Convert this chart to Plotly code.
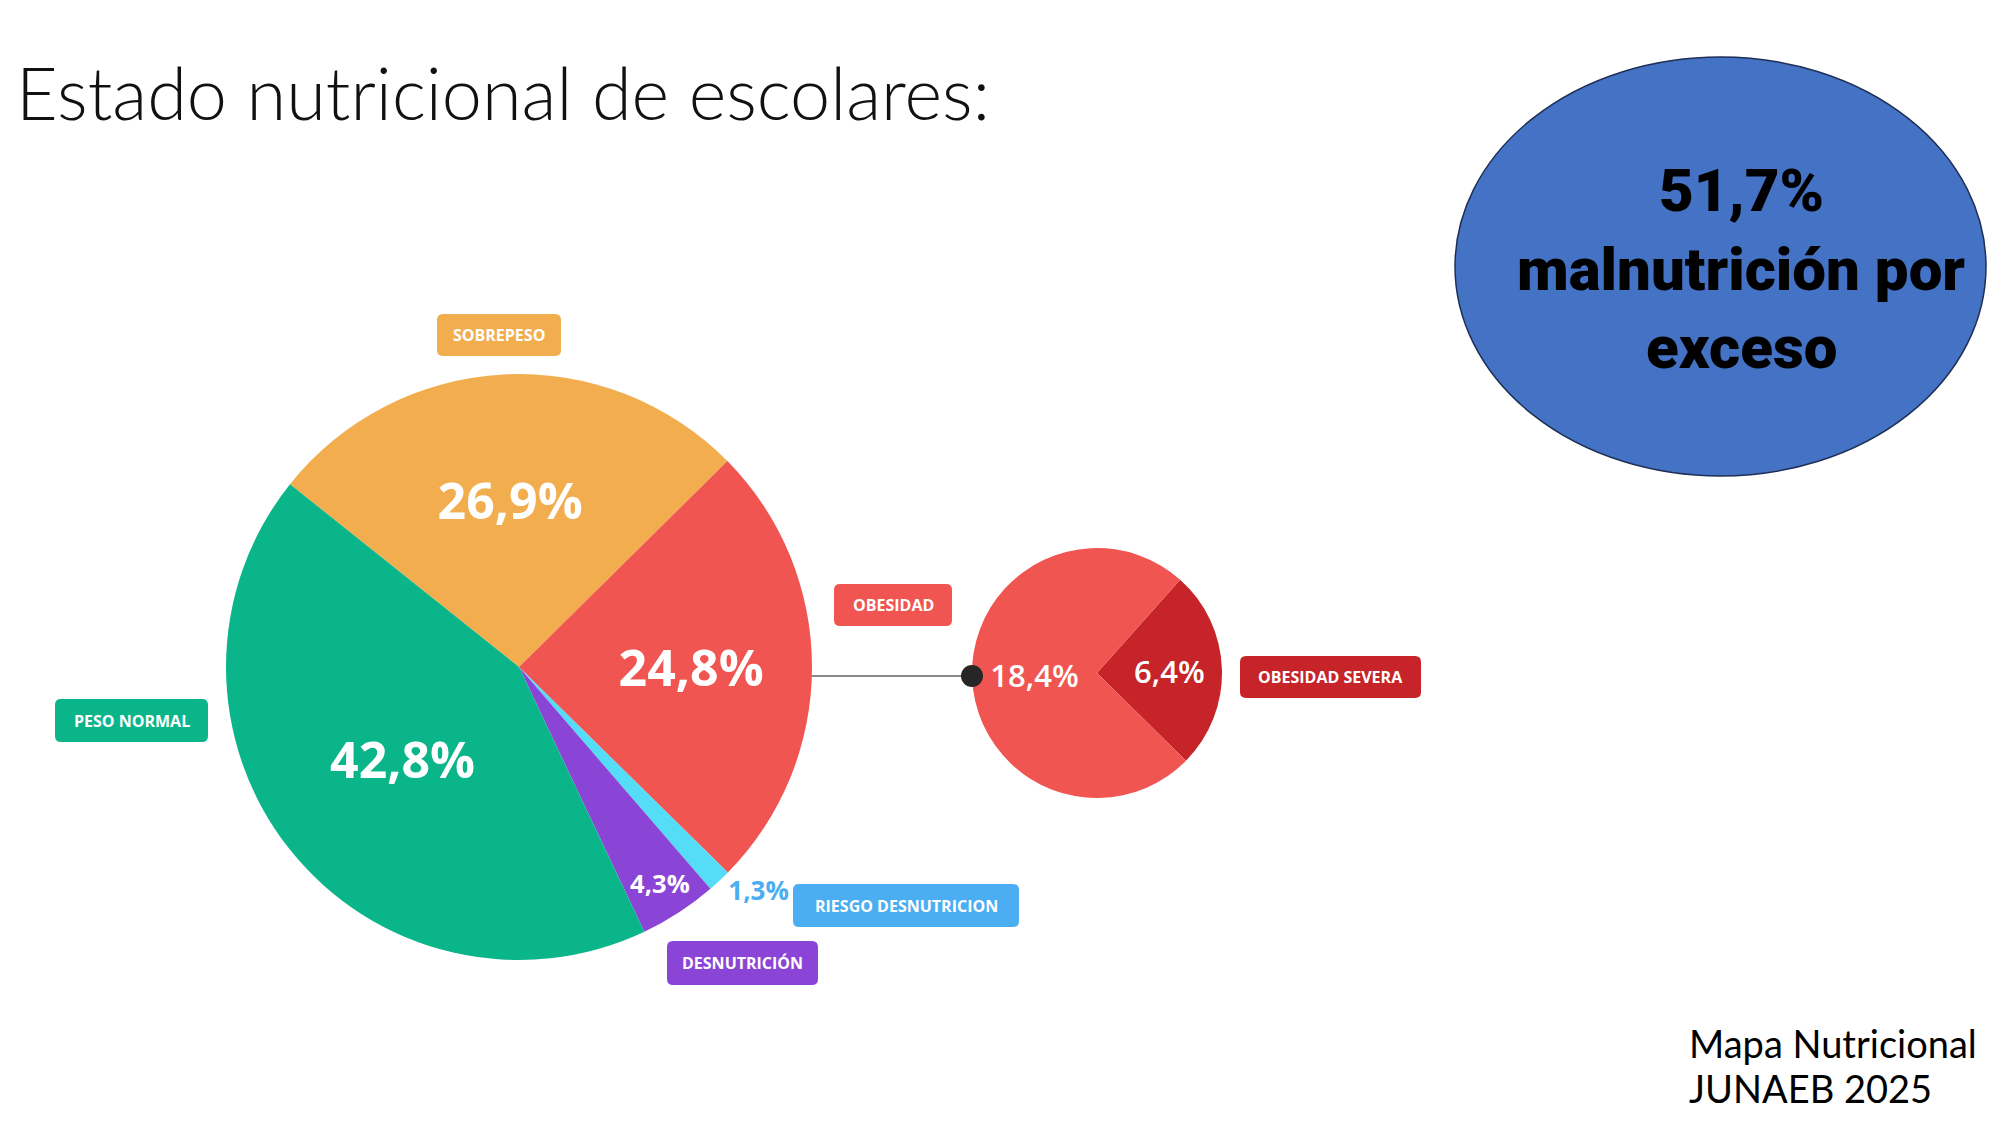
import plotly.graph_objects as go

# page body has an 8px margin, so the figure is drawn a bit smaller
OFF = 8
W, H = 2000 - 2 * OFF, 1125 - 2 * OFF

title_text = "Estado nutricional de escolares:"

# main pie, clockwise from the top-left boundary
categories = ["Sobrepeso", "Obesidad", "Riesgo desnutrición", "Desnutrición", "Peso normal"]
values = [26.9, 24.8, 1.3, 4.3, 42.8]
colors = ["#F2AD4F", "#F05552", "#55DCF6", "#8A45D6", "#0BB58A"]
text_pos = ["inside", "inside", "outside", "inside", "inside"]
text_colors = ["white", "white", "#4BAEF3", "white", "white"]
text_sizes = [50, 50, 26, 26, 50]

# breakdown of obesidad
obesity_categories = ["Obesidad severa", "Obesidad"]
obesity_values = [6.4, 18.4]
obesity_colors = ["#C62429", "#F05552"]

tags = ["SOBREPESO", "OBESIDAD", "OBESIDAD SEVERA", "PESO NORMAL",
        "RIESGO DESNUTRICION", "DESNUTRICIÓN"]
tag_colors = ["#F2AD4F", "#F05552", "#C62429", "#0BB58A", "#4BAEF3", "#8A45D6"]

highlight_lines = ["51,7%", "malnutrición por", "exceso"]
source_lines = ["Mapa Nutricional", "JUNAEB 2025"]


def px(x):
    return (x - OFF) / W


def py(y):
    return 1 - (y - OFF) / H


def rounded_rect(x0, x1, y0, y1, r=6):
    # path in paper units, corners rounded by r pixels
    rx, ry = r / W, r / H
    a, b = px(x0), px(x1)
    top, bot = py(y0), py(y1)
    return ("M %f,%f L %f,%f Q %f,%f %f,%f L %f,%f Q %f,%f %f,%f "
            "L %f,%f Q %f,%f %f,%f L %f,%f Q %f,%f %f,%f Z" % (
                a + rx, top, b - rx, top, b, top, b, top - ry,
                b, bot + ry, b, bot, b - rx, bot,
                a + rx, bot, a, bot, a, bot + ry,
                a, top - ry, a, top, a + rx, top))


fig = go.Figure()

# main pie: center (519, 667), radius 293
fig.add_trace(go.Pie(
    labels=categories, values=values, sort=False, direction="clockwise",
    rotation=-51.4,
    marker=dict(colors=colors, line=dict(width=0)),
    texttemplate="%{value:.1f}%", textposition=text_pos,
    insidetextorientation="horizontal",
    textfont=dict(family="Open Sans", size=text_sizes, color=text_colors, weight=700),
    domain=dict(x=[px(226), px(812)], y=[py(960), py(374)]),
    showlegend=False, hoverinfo="label+value",
))

# obesidad pie: center (1097, 673), radius 125
fig.add_trace(go.Pie(
    labels=obesity_categories, values=obesity_values, sort=False, direction="clockwise",
    rotation=41.7,
    marker=dict(colors=obesity_colors, line=dict(width=0)),
    texttemplate="%{value:.1f}%", textposition="inside",
    insidetextorientation="horizontal",
    textfont=dict(family="Open Sans", size=31, color="white", weight=600),
    domain=dict(x=[px(972), px(1222)], y=[py(798), py(548)]),
    showlegend=False, hoverinfo="label+value",
))

shapes = [
    dict(type="line", xref="paper", yref="paper", x0=px(811), x1=px(972),
         y0=py(676), y1=py(676), line=dict(color="#8A8A8A", width=2)),
    dict(type="circle", xref="paper", yref="paper", x0=px(961), x1=px(983),
         y0=py(687), y1=py(665), fillcolor="#262626", line=dict(width=0)),
    dict(type="circle", xref="paper", yref="paper", x0=px(1455), x1=px(1986),
         y0=py(476), y1=py(57), fillcolor="#4472C4", line=dict(color="#1F2F55", width=1.5),
         layer="below"),
]

annotations = [
    dict(text=title_text, x=px(14), y=py(92), xanchor="left", yanchor="middle",
         font=dict(family="Lato", size=72, color="#111111", weight=300)),
]

# tag boxes (x0, x1, y0, y1 in pixels)
tag_boxes = [(437, 561, 314, 356), (834, 952, 584, 626), (1240, 1421, 656, 698),
             (55, 208, 699, 742), (793, 1019, 884, 927), (667, 818, 941, 985)]
for tag, col, (x0, x1, y0, y1) in zip(tags, tag_colors, tag_boxes):
    shapes.append(dict(type="path", xref="paper", yref="paper",
                       path=rounded_rect(x0, x1, y0, y1), fillcolor=col,
                       line=dict(width=0)))
    annotations.append(dict(
        text="<b>%s</b>" % tag, x=px((x0 + x1) / 2), y=py((y0 + y1) / 2),
        xanchor="center", yanchor="middle",
        font=dict(family="Open Sans", size=16, color="white"),
    ))

for i, line in enumerate(highlight_lines):
    annotations.append(dict(
        text=line, x=px(1741), y=py(190 + i * 79),
        xanchor="center", yanchor="middle",
        font=dict(family="Roboto", size=60, color="black", weight=900),
    ))

for i, line in enumerate(source_lines):
    annotations.append(dict(
        text=line, x=px(1687), y=py(1043 + i * 45), xanchor="left", yanchor="middle",
        font=dict(family="Lato", size=38, color="black"),
    ))

for a in annotations:
    a.setdefault("showarrow", False)
    a["xref"] = "paper"
    a["yref"] = "paper"

fig.update_layout(
    width=W, height=H, margin=dict(l=0, r=0, t=0, b=0),
    paper_bgcolor="white", plot_bgcolor="white",
    separators=",.",
    shapes=shapes, annotations=annotations,
)

fig.write_html("out.html")
